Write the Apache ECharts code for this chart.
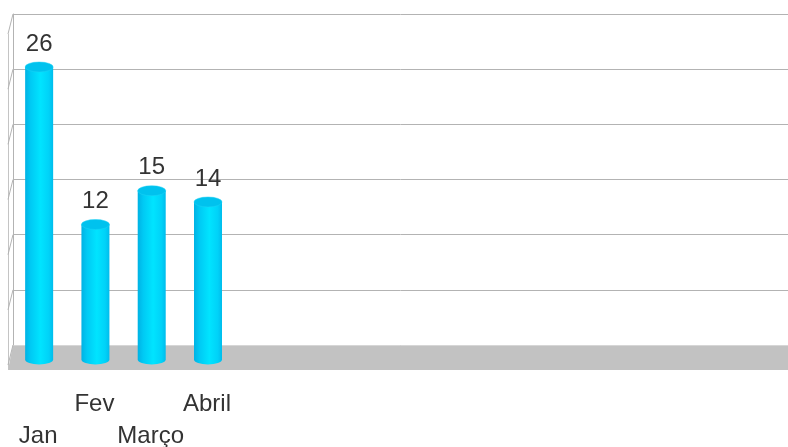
<!DOCTYPE html>
<html>
<head>
<meta charset="utf-8">
<script src="https://cdn.jsdelivr.net/npm/echarts@6/dist/echarts.min.js"></script>
<style>
  html, body { margin: 0; padding: 0; background: #fff; }
  #chart { width: 788px; height: 447px; }
</style>
</head>
<body>
<div id="chart"></div>
<script>
const months = ['Jan', 'Fev', 'Março', 'Abril']
const visits = [26, 12, 15, 14]
const yTicks = [0, 5, 10, 15, 20, 25, 30]

const chart = echarts.init(document.getElementById('chart'))

const bodyGradient = {
  type: 'linear', x: 0, y: 0, x2: 1, y2: 0,
  colorStops: [
    { offset: 0, color: '#00b2e4' },
    { offset: 0.2, color: '#00caf4' },
    { offset: 0.55, color: '#00e4ff' },
    { offset: 0.85, color: '#00d2f8' },
    { offset: 1, color: '#00bcec' }
  ]
}

function renderCylinder(params, api) {
  const top = api.coord([api.value(0), api.value(1)])
  const base = api.coord([api.value(0), 0])
  const cx = top[0] + 1
  const rx = 14
  const ry = 5
  const body = 'M' + (cx - rx) + ' ' + top[1] +
    ' L' + (cx - rx) + ' ' + base[1] +
    ' A' + rx + ' ' + ry + ' 0 0 0 ' + (cx + rx) + ' ' + base[1] +
    ' L' + (cx + rx) + ' ' + top[1] + ' Z'
  const cap = 'M' + (cx - rx) + ' ' + top[1] +
    ' A' + rx + ' ' + ry + ' 0 1 0 ' + (cx + rx) + ' ' + top[1] +
    ' A' + rx + ' ' + ry + ' 0 1 0 ' + (cx - rx) + ' ' + top[1] + ' Z'
  return {
    type: 'group',
    children: [
      { type: 'path', shape: { pathData: body }, style: { fill: bodyGradient } },
      { type: 'path', shape: { pathData: cap }, style: { fill: '#00c2ee', stroke: '#1fd0f4', lineWidth: 0.5 } },
      {
        type: 'text',
        style: {
          text: String(api.value(1)),
          x: cx, y: top[1] - 23,
          textAlign: 'center', textVerticalAlign: 'middle',
          fill: '#333', fontSize: 24, fontFamily: 'Liberation Sans, Arial, sans-serif'
        }
      }
    ]
  }
}

// left wall slants, from the back wall ticks towards the front
function renderWall(params, api) {
  const p = api.coord([0, api.value(0)])
  return {
    type: 'line',
    shape: { x1: p[0], y1: p[1], x2: p[0] - 5, y2: p[1] + 20 },
    style: { stroke: '#b3b3b3', lineWidth: 1 }
  }
}

chart.setOption({
  animation: false,
  grid: [
    { left: 10, width: 788, top: 22, bottom: 87.5, outerBoundsMode: 'none' },
    { left: 13, right: 0, top: 14, bottom: 102, outerBoundsMode: 'none' }
  ],
  xAxis: [
    {
      type: 'category',
      gridIndex: 0,
      data: months,
      max: 13,
      axisLine: { show: false },
      axisTick: { show: false },
      axisLabel: {
        interval: 0,
        margin: 29,
        color: '#333',
        fontSize: 24,
        lineHeight: 32,
        fontFamily: 'Liberation Sans, Arial, sans-serif',
        formatter: (v, i) => (i % 2 === 0 ? '\n' + v : v)
      }
    },
    { type: 'value', gridIndex: 1, min: 0, max: 1, show: false }
  ],
  yAxis: [
    { type: 'value', gridIndex: 0, min: 0, max: 30, interval: 5, show: false },
    {
      type: 'value', gridIndex: 1, min: 0, max: 30, interval: 5,
      axisLabel: { show: false },
      axisTick: { show: false },
      axisLine: { show: true, lineStyle: { color: '#b3b3b3' } },
      splitLine: { lineStyle: { color: '#b3b3b3', width: 1 } }
    }
  ],
  graphic: [
    {
      type: 'polygon', z: 1,
      shape: { points: [[13, 345], [788, 345], [788, 370], [8, 370]] },
      style: { fill: '#c2c2c2' }
    },
    {
      type: 'line', z: 1,
      shape: { x1: 13, y1: 345.5, x2: 788, y2: 345.5 },
      style: { stroke: '#d6d6d6', lineWidth: 1 }
    },
    {
      type: 'line', z: 1,
      shape: { x1: 8.5, y1: 34, x2: 8.5, y2: 370 },
      style: { stroke: '#c4c4c4', lineWidth: 1 }
    }
  ],
  series: [
    {
      type: 'custom',
      xAxisIndex: 1,
      yAxisIndex: 1,
      z: 1,
      renderItem: renderWall,
      data: yTicks.map(v => [v])
    },
    {
      type: 'custom',
      xAxisIndex: 0,
      yAxisIndex: 0,
      z: 5,
      renderItem: renderCylinder,
      encode: { x: 0, y: 1 },
      data: visits.map((v, i) => [i, v])
    }
  ]
})
</script>
</body>
</html>
